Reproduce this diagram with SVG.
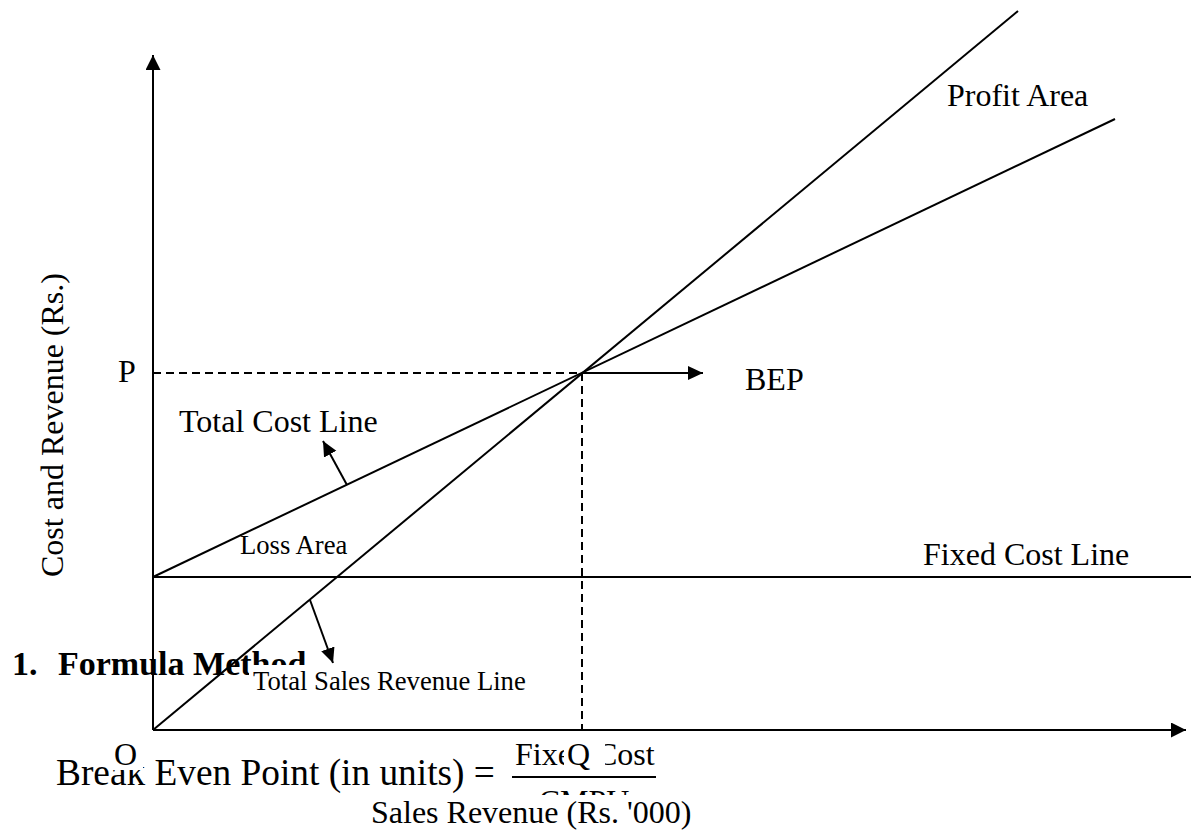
<svg xmlns="http://www.w3.org/2000/svg" width="1191" height="830" viewBox="0 0 1191 830">
<style>
text { font-family: "Liberation Serif", "Times New Roman", serif; fill: #000; }
.lbl { font-size: 32px; }
.sm { font-size: 26.67px; }
.ln { stroke: #000; stroke-width: 2; fill: none; }
.dash { stroke: #000; stroke-width: 2; stroke-dasharray: 8 5; fill: none; }
.box { fill: #fff; stroke: none; }
</style>
<defs>
<marker id="ah" markerUnits="userSpaceOnUse" markerWidth="16" markerHeight="16" refX="15" refY="7.5" orient="auto">
<path d="M0,0 L15,7.5 L0,15 Z" fill="#000"/>
</marker>
<marker id="ahs" markerUnits="userSpaceOnUse" markerWidth="16" markerHeight="15" refX="15" refY="7" orient="auto">
<path d="M0,0 L15,7 L0,14 Z" fill="#000"/>
</marker>
</defs>
<rect width="1191" height="830" fill="#fff"/>

<g id="formula">
<text x="12" y="675" style="font-size:34px;font-weight:bold">1.</text>
<text x="58" y="675" style="font-size:34px;font-weight:bold">Formula Method</text>
<text x="56" y="785" style="font-size:37.33px">Break Even Point (in units) =</text>
<text x="515" y="765" class="lbl">Fixed Cost</text>
<line x1="512" y1="777" x2="656" y2="777" stroke="#000" stroke-width="2"/>
<text x="584" y="812" class="lbl" text-anchor="middle">CMPU</text>
</g>

<g id="connectors">
<line class="ln" x1="153" y1="730" x2="153" y2="55" marker-end="url(#ah)"/>
<line class="ln" x1="153" y1="730" x2="1186" y2="730" marker-end="url(#ah)"/>
<line class="ln" x1="153" y1="577" x2="1191" y2="577"/>
<line class="ln" x1="153" y1="577" x2="1115" y2="119"/>
<line class="ln" x1="153" y1="730" x2="1018" y2="11"/>
<line class="dash" x1="153" y1="373" x2="582" y2="373"/>
<line class="dash" x1="582" y1="373" x2="582" y2="730"/>
<line class="ln" x1="582" y1="373" x2="703" y2="373" marker-end="url(#ahs)"/>
<line class="ln" x1="347" y1="485" x2="323" y2="441" marker-end="url(#ahs)"/>
<line class="ln" x1="310" y1="600" x2="333" y2="663" marker-end="url(#ahs)"/>
</g>

<g id="y-label">
<text class="lbl" transform="translate(63,577) rotate(-90)">Cost and Revenue (Rs.)</text>
</g>
<g id="profit-area"><text x="947" y="106" class="lbl">Profit Area</text></g>
<g id="bep"><text x="745" y="390" class="lbl">BEP</text></g>
<g id="p-label"><text x="118" y="382" class="lbl">P</text></g>
<g id="total-cost-line"><text x="179" y="432" class="lbl">Total Cost Line</text></g>
<g id="loss-area"><text x="240" y="554" class="sm">Loss Area</text></g>
<g id="fixed-cost-line"><text x="923" y="565" class="lbl">Fixed Cost Line</text></g>
<g id="total-sales-revenue-line">
<rect class="box" x="249" y="665" width="282" height="32"/>
<text x="253" y="690" class="sm">Total Sales Revenue Line</text>
</g>
<g id="o-label">
<rect class="box" x="111" y="740" width="32" height="30"/>
<text x="114" y="765" class="lbl">O</text>
</g>
<g id="q-label">
<rect class="box" x="564" y="740" width="41" height="32"/>
<text x="567" y="765" class="lbl">Q</text>
</g>
<g id="x-label">
<rect class="box" x="365" y="795" width="330" height="35"/>
<text x="371" y="823" class="lbl">Sales Revenue (Rs. '000)</text>
</g>
</svg>
